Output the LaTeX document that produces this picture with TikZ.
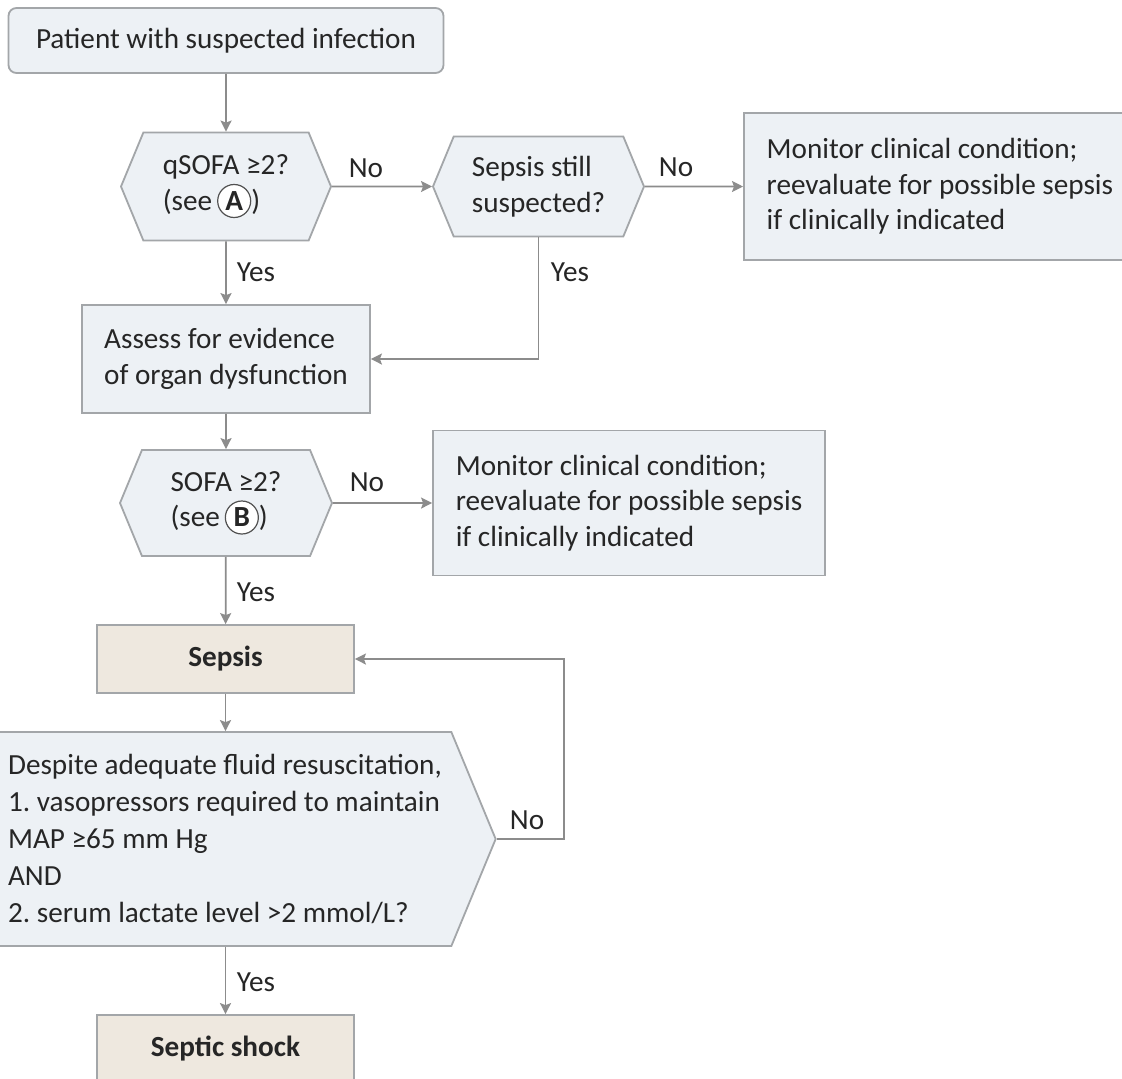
\documentclass[tikz,border=0pt]{standalone}
\usepackage{fontspec}
\setmainfont{Carlito}
\usetikzlibrary{shapes.symbols,arrows.meta}
\definecolor{boxfill}{HTML}{EDF1F5}
\definecolor{boxline}{HTML}{A3A6A9}
\definecolor{tanfill}{HTML}{EEE8DF}
\definecolor{linkcol}{HTML}{8C8C8C}
\definecolor{txt}{HTML}{262626}
\newcommand{\rlet}[1]{\tikz[baseline=(L.base)]\node[shape=circle,draw=txt!80,fill=white,line width=0.6pt,inner sep=0pt,minimum size=16.5pt,anchor=center,font=\bfseries,text=txt](L){#1};}
\frenchspacing
\begin{document}
\begin{tikzpicture}[x=0.5pt,y=-0.5pt]
\tikzset{
    every node/.style={text=txt, font=\fontsize{14.6}{17.8}\selectfont},
    box/.style={draw=boxline, fill=boxfill, line width=0.9pt},
    startbox/.style={box, rectangle, rounded corners=4pt, inner sep=0pt},
    plainbox/.style={box, rectangle, align=left, inner sep=0pt},
    hexbox/.style={box, signal, signal to=west and east, signal pointer angle=135, align=left, inner sep=0pt},
    arrowbox/.style={box, signal, signal to=east, signal pointer angle=135, align=left, inner sep=0pt},
    endbox/.style={draw=boxline, fill=tanfill, line width=0.9pt, rectangle, inner sep=0pt, font=\fontsize{14.6}{17.8}\selectfont\bfseries},
    link/.style={draw=linkcol, line width=0.9pt, -{Stealth[length=5.5pt,width=5.5pt,inset=1pt]}},
    lbl/.style={inner sep=0pt}}

\fill[white] (0,0) rectangle (1122,1078);
\useasboundingbox (0,0) rectangle (1122,1078);
\clip (0,0) rectangle (1122,1078);

\node[startbox, minimum width=217.5pt, minimum height=32.5pt] (start) at (226,40.5) {Patient with suspected infection};

\node[hexbox, minimum width=105pt, minimum height=54pt] (qsofa) at (226,186.5) {qSOFA ≥2?\\(see\,\rlet{A})};
\node[hexbox, minimum width=105.5pt, minimum height=50pt] (still) at (538.5,186.5) {Sepsis still\\suspected?};
\node[plainbox, anchor=west, minimum width=196pt, minimum height=73.5pt] (mon1) at (743,186.5) {Monitor clinical condition;\\reevaluate for possible sepsis\\if clinically indicated};

\node[plainbox, minimum width=144pt, minimum height=54pt] (assess) at (226,359) {Assess for evidence\\of organ dysfunction};

\node[hexbox, minimum width=106pt, minimum height=53pt] (sofa) at (226,503) {SOFA ≥2?\\(see\,\rlet{B})};
\node[plainbox, minimum width=196pt, minimum height=72.5pt] (mon2) at (629,503) {Monitor clinical condition;\\reevaluate for possible sepsis\\if clinically indicated};

\node[endbox, minimum width=128.5pt, minimum height=34pt] (sepsis) at (225.5,659) {Sepsis};

\node[arrowbox, minimum width=248.5pt, minimum height=107pt, font=\fontsize{14.6}{18.4}\selectfont] (shockq) at (225,839) {Despite adequate fluid resuscitation,\\1. vasopressors required to maintain\\MAP ≥65 mm Hg\\AND\\2. serum lactate level >2 mmol/L?};

\node[endbox, minimum width=128.5pt, minimum height=34pt] (shock) at (225.5,1049) {Septic shock};

\node[lbl] (no1) at (366,168) {No};
\node[lbl] (no2) at (676,167) {No};
\node[lbl] (yes1) at (256,272) {Yes};
\node[lbl] (yes2) at (570,272) {Yes};
\node[lbl] (no3) at (367,482) {No};
\node[lbl] (yes3) at (256,592) {Yes};
\node[lbl] (no4) at (527,820) {No};
\node[lbl] (yes4) at (256,982) {Yes};

\draw[link] (start) -- (qsofa);
\draw[link] (qsofa) -- (still);
\draw[link] (still) -- (mon1);
\draw[link] (qsofa) -- (assess);
\draw[link] (still.south) |- (assess.east);
\draw[link] (assess) -- (sofa);
\draw[link] (sofa) -- (mon2);
\draw[link] (sofa) -- (sepsis);
\draw[link] (sepsis.south) -- (sepsis.south |- shockq.north);
\draw[link] (shockq.east) -- ++(67,0) |- (sepsis.east);
\draw[link] (sepsis.south |- shockq.south) -- (shock.north);
\end{tikzpicture}
\end{document}
